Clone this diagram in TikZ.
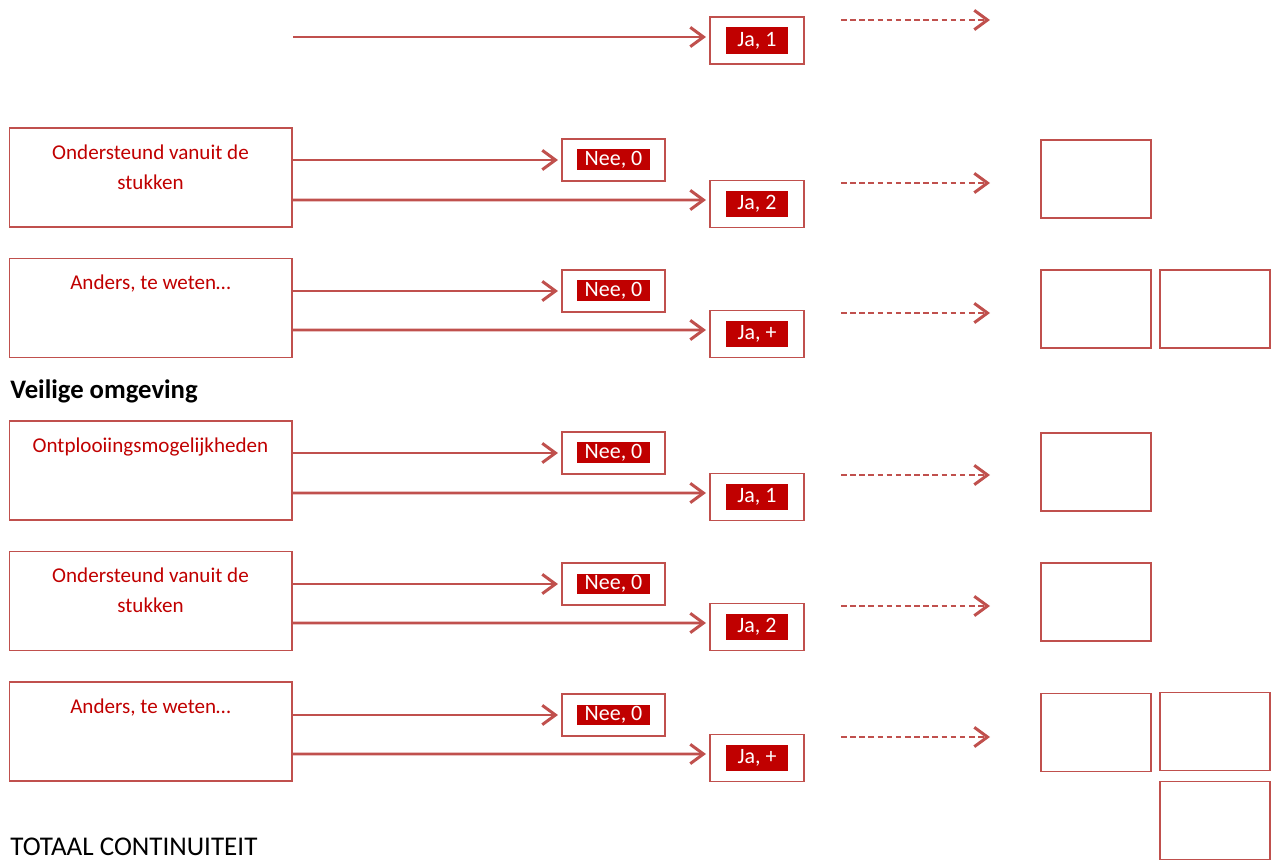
\documentclass[tikz,border=0pt]{standalone}
\usepackage{fontspec}
\setmainfont{Carlito}
\usetikzlibrary{arrows.meta, positioning}
\definecolor{boxred}{HTML}{C0504D}
\definecolor{textred}{HTML}{C00000}

\begin{document}
\begin{tikzpicture}[x=0.02cm, y=-0.02cm]
\tikzstyle{item} = [rectangle, draw=boxred, line width=0.6pt, minimum width=5.66cm, minimum height=1.98cm, inner sep=0pt]
\tikzstyle{itemtext} = [text=textred, align=center, font=\fontsize{12}{17}\selectfont, anchor=north, inner sep=0pt]
\tikzstyle{nee} = [rectangle, draw=boxred, line width=0.6pt, minimum width=2.06cm, minimum height=0.84cm, inner sep=0pt]
\tikzstyle{ja} = [rectangle, draw=boxred, line width=0.6pt, minimum width=1.88cm, minimum height=0.94cm, inner sep=0pt]
\tikzstyle{neescore} = [fill=textred, text=white, font=\fontsize{12.5}{15}\selectfont, inner sep=0pt, minimum width=1.46cm, minimum height=0.42cm]
\tikzstyle{jascore} = [fill=textred, text=white, font=\fontsize{12.5}{15}\selectfont, inner sep=0pt, minimum width=1.26cm, minimum height=0.53cm]
\tikzstyle{result} = [rectangle, draw=boxred, line width=0.7pt, minimum width=2.2cm, minimum height=1.56cm, inner sep=0pt]
\tikzstyle{heading} = [anchor=west, inner sep=0pt, font=\fontsize{15.4}{17}\selectfont]
\tikzstyle{arrow} = [draw=boxred, line width=1.7pt, shorten >=2pt, -{Straight Barb[length=7.5pt,width=11pt]}]
\tikzstyle{dasharrow} = [arrow, shorten >=0pt, dash pattern=on 3.2pt off 2pt]

\useasboundingbox (0,0) rectangle (1276,861);

% top row
\coordinate (start0) at (293,37);
\node (ja0) [ja] at (757,40.5) {};
\node (ja0s) [jascore] at (ja0) {Ja, 1};
\coordinate (d0a) at (841,20);
\coordinate (d0b) at (990,20);
\draw [arrow] (start0) -- (start0 -| ja0.west);
\draw [dasharrow] (d0a) -- (d0b);

% ondersteund vanuit de stukken
\node (item1) [item] at (150.5,177.5) {};
\node (item1t) [itemtext] at ([yshift=-0.34cm]item1.north) {Ondersteund vanuit de\\stukken};
\node (nee1) [nee] at (613.5,160) {};
\node (nee1s) [neescore] at (nee1) {Nee, 0};
\node (ja1) [ja] at (757,204) {};
\node (ja1s) [jascore] at (ja1) {Ja, 2};
\node (res1) [result] at (1096,179) {};
\coordinate (d1a) at (841,183);
\coordinate (d1b) at (990,183);
\draw [arrow] (item1.east |- nee1.west) -- (nee1.west);
\draw [arrow] (item1.east |- ja1.west) ++(0,-4) -- ([yshift=0.08cm]ja1.west);
\draw [dasharrow] (d1a) -- (d1b);

% anders
\node (item2) [item] at (150.5,308) {};
\node (item2t) [itemtext] at ([yshift=-0.34cm]item2.north) {Anders, te weten…};
\node (nee2) [nee] at (613.5,291) {};
\node (nee2s) [neescore] at (nee2) {Nee, 0};
\node (ja2) [ja] at (757,334) {};
\node (ja2s) [jascore] at (ja2) {Ja, +};
\node (res2a) [result] at (1096,309) {};
\node (res2b) [result] at (1215,309) {};
\coordinate (d2a) at (841,313);
\coordinate (d2b) at (990,313);
\draw [arrow] (item2.east |- nee2.west) -- (nee2.west);
\draw [arrow] (item2.east |- ja2.west) ++(0,-4) -- ([yshift=0.08cm]ja2.west);
\draw [dasharrow] (d2a) -- (d2b);

\node (veilig) [heading, font=\fontsize{15.2}{17}\selectfont\bfseries] at (10,391) {Veilige omgeving};

% ontplooiing
\node (item3) [item] at (150.5,470.5) {};
\node (item3t) [itemtext] at ([yshift=-0.34cm]item3.north) {Ontplooiingsmogelijkheden};
\node (nee3) [nee] at (613.5,453) {};
\node (nee3s) [neescore] at (nee3) {Nee, 0};
\node (ja3) [ja] at (757,497) {};
\node (ja3s) [jascore] at (ja3) {Ja, 1};
\node (res3) [result] at (1096,472) {};
\coordinate (d3a) at (841,475);
\coordinate (d3b) at (990,475);
\draw [arrow] (item3.east |- nee3.west) -- (nee3.west);
\draw [arrow] (item3.east |- ja3.west) ++(0,-4) -- ([yshift=0.08cm]ja3.west);
\draw [dasharrow] (d3a) -- (d3b);

% ondersteund vanuit de stukken
\node (item4) [item] at (150.5,601) {};
\node (item4t) [itemtext] at ([yshift=-0.34cm]item4.north) {Ondersteund vanuit de\\stukken};
\node (nee4) [nee] at (613.5,584) {};
\node (nee4s) [neescore] at (nee4) {Nee, 0};
\node (ja4) [ja] at (757,627) {};
\node (ja4s) [jascore] at (ja4) {Ja, 2};
\node (res4) [result] at (1096,602) {};
\coordinate (d4a) at (841,606);
\coordinate (d4b) at (990,606);
\draw [arrow] (item4.east |- nee4.west) -- (nee4.west);
\draw [arrow] (item4.east |- ja4.west) ++(0,-4) -- ([yshift=0.08cm]ja4.west);
\draw [dasharrow] (d4a) -- (d4b);

% anders
\node (item5) [item] at (150.5,731.5) {};
\node (item5t) [itemtext] at ([yshift=-0.34cm]item5.north) {Anders, te weten…};
\node (nee5) [nee] at (613.5,715) {};
\node (nee5s) [neescore] at (nee5) {Nee, 0};
\node (ja5) [ja] at (757,758) {};
\node (ja5s) [jascore] at (ja5) {Ja, +};
\node (res5a) [result] at (1096,732.5) {};
\node (res5b) [result] at (1215,731.5) {};
\node (res5c) [result] at (1215,820.5) {};
\coordinate (d5a) at (841,737);
\coordinate (d5b) at (990,737);
\draw [arrow] (item5.east |- nee5.west) -- (nee5.west);
\draw [arrow] (item5.east |- ja5.west) ++(0,-4) -- ([yshift=0.08cm]ja5.west);
\draw [dasharrow] (d5a) -- (d5b);

\node (totaal) [heading] at (10,847) {TOTAAL CONTINUITEIT};
\end{tikzpicture}
\end{document}
